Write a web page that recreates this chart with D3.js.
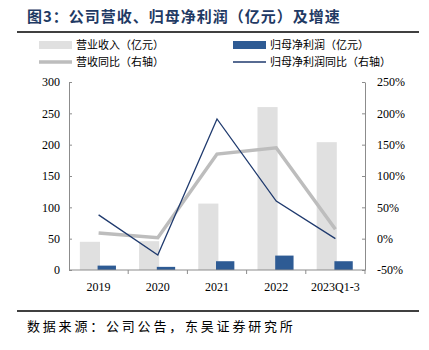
<!DOCTYPE html>
<html>
<head>
<meta charset="utf-8">
<script src="https://cdn.jsdelivr.net/npm/d3@7"></script>
<style>
  body { margin: 0; background: #fff; }
  svg { display: block; }
  .cn { font-family: "Noto Sans CJK SC", "Noto Sans", sans-serif; }
  .axis text { font-family: "Liberation Serif", "DejaVu Serif", serif; font-size: 12px; fill: #000; }
  .axis path, .axis line { stroke: #8c8c8c; }
</style>
</head>
<body>
<div id="chart"></div>
<script>
// chart values
const categories = ['2019', '2020', '2021', '2022', '2023Q1-3'];
const revenue = [45, 46, 106, 260, 204];            // 营业收入（亿元）
const netProfit = [7, 5, 14, 23, 14];               // 归母净利润（亿元）
const revenueGrowth = [9, 1.5, 135, 145, 15];        // 营收同比 %
const profitGrowth = [38, -26, 191, 60, 0];          // 归母净利润同比 %
const leftTicks = [0, 50, 100, 150, 200, 250, 300];
const rightTicks = [-50, 0, 50, 100, 150, 200, 250];

const W = 429, H = 350;
const plot = {left: 69, right: 365, top: 82, bottom: 270};

const svg = d3.select('#chart').append('svg').attr('width', W).attr('height', H);

// title + rules
svg.append('text').attr('class', 'cn')
    .attr('x', 27).attr('y', 22)
    .style('font-size', '15px').style('font-weight', 'bold').style('fill', '#1f3a64')
    .style('letter-spacing', '1px')
    .text('图3：公司营收、归母净利润（亿元）及增速');
svg.append('line').attr('x1', 17).attr('x2', 419).attr('y1', 32).attr('y2', 32)
    .attr('stroke', '#000').attr('stroke-width', 1.5);
svg.append('line').attr('x1', 17).attr('x2', 419).attr('y1', 311).attr('y2', 311)
    .attr('stroke', '#000').attr('stroke-width', 1.5);
svg.append('text').attr('class', 'cn')
    .attr('x', 27).attr('y', 331)
    .style('font-size', '13px').style('fill', '#000')
    .style('letter-spacing', '2.8px')
    .text('数据来源：公司公告，东吴证券研究所');

// scales
const x = d3.scaleBand().domain(categories).range([plot.left, plot.right]).padding(0);
const yL = d3.scaleLinear().domain([0, 300]).range([plot.bottom, plot.top]);
const yR = d3.scaleLinear().domain([-50, 250]).range([plot.bottom, plot.top]);
const bw = x.bandwidth();
const cx = c => x(c) + bw / 2;

// bars
const revColor = '#e0e0e0', profColor = '#2e5b94';
const revW = bw * 0.34, profW = bw * 0.31;

svg.append('g').selectAll('rect').data(categories).join('rect')
    .attr('x', (d) => cx(d) - revW + 1.4)
    .attr('width', revW)
    .attr('y', (d, i) => yL(revenue[i]))
    .attr('height', (d, i) => yL(0) - yL(revenue[i]))
    .attr('fill', revColor);

svg.append('g').selectAll('rect').data(categories).join('rect')
    .attr('x', (d) => cx(d) - 1)
    .attr('width', profW)
    .attr('y', (d, i) => yL(netProfit[i]))
    .attr('height', (d, i) => yL(0) - yL(netProfit[i]))
    .attr('fill', profColor);

// axes
svg.append('g').attr('class', 'axis')
    .attr('transform', `translate(${plot.left},0)`)
    .call(d3.axisLeft(yL).tickValues(leftTicks).tickSizeInner(-3).tickSizeOuter(0).tickPadding(9));
svg.append('g').attr('class', 'axis')
    .attr('transform', `translate(${plot.right},0)`)
    .call(d3.axisRight(yR).tickValues(rightTicks).tickFormat(d => d + '%')
        .tickSizeInner(-3).tickSizeOuter(0).tickPadding(12));
const axB = svg.append('g').attr('class', 'axis')
    .attr('transform', `translate(0,${plot.bottom})`)
    .call(d3.axisBottom(x).tickSize(0).tickPadding(12));
// bottom tick marks sit between categories
axB.selectAll('line.sep').data(categories.slice(1).concat(['end'])).join('line')
    .attr('class', 'sep')
    .attr('x1', d => d === 'end' ? plot.right : x(d))
    .attr('x2', d => d === 'end' ? plot.right : x(d))
    .attr('y1', 0).attr('y2', 4);
axB.select('path').attr('d', `M${plot.left},0H${plot.right}`);

// growth lines
const line = vals => d3.line().x((d, i) => cx(categories[i])).y(d => yR(d))(vals);
svg.append('path').attr('d', line(revenueGrowth))
    .attr('fill', 'none').attr('stroke', '#bdbdbd').attr('stroke-width', 3.5)
    .attr('stroke-linejoin', 'miter');
svg.append('path').attr('d', line(profitGrowth))
    .attr('fill', 'none').attr('stroke', '#1f3a6e').attr('stroke-width', 1.3);

// legend
const legend = [
    {label: '营业收入（亿元）', type: 'rect', color: revColor, x: 39, y: 45},
    {label: '归母净利润（亿元）', type: 'rect', color: profColor, x: 233, y: 45},
    {label: '营收同比（右轴）', type: 'line', color: '#bdbdbd', w: 3.5, x: 39, y: 62},
    {label: '归母净利润同比（右轴）', type: 'line', color: '#1f3a6e', w: 1.3, x: 233, y: 62}
];
const lg = svg.append('g').selectAll('g').data(legend).join('g')
    .attr('transform', d => `translate(${d.x},${d.y})`);
lg.filter(d => d.type === 'rect').append('rect')
    .attr('x', 0).attr('y', -4).attr('width', 33).attr('height', 8).attr('fill', d => d.color);
lg.filter(d => d.type === 'line').append('line')
    .attr('x1', 0).attr('x2', 33).attr('y1', 0).attr('y2', 0)
    .attr('stroke', d => d.color).attr('stroke-width', d => d.w);
lg.append('text').attr('class', 'cn')
    .attr('x', 37).attr('y', 0).attr('dy', '0.36em')
    .style('font-size', '11px').style('fill', '#000')
    .text(d => d.label);
</script>
</body>
</html>
